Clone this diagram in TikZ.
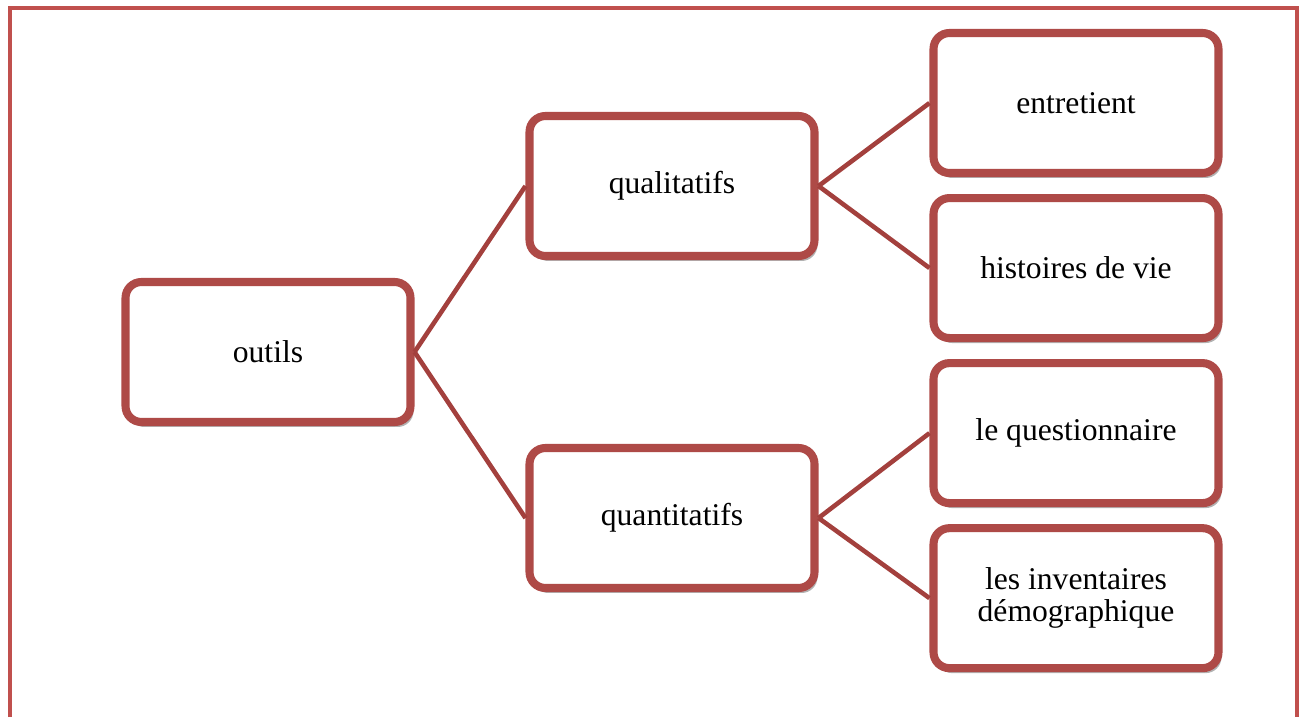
\documentclass[tikz,border=0pt]{standalone}
\usepackage{fontspec}
\setmainfont{Liberation Serif}
\usetikzlibrary{positioning, shadows}
\definecolor{framered}{HTML}{C0504D}
\definecolor{boxred}{HTML}{AE4A47}
\definecolor{linkred}{HTML}{A3403D}

\tikzset{
  box/.style={draw=boxred, line width=4.6pt, rounded corners=9pt, fill=white,
    minimum width=5.7cm, minimum height=2.8cm, align=center,
    font=\fontsize{18}{18.5}\selectfont,
    drop shadow={shadow xshift=.6mm, shadow yshift=-1mm, fill=black, opacity=.3}},
  link/.style={draw=linkred, line width=2.6pt}
}

\begin{document}
\begin{tikzpicture}[x=0.02cm, y=0.02cm, node distance=0.34cm]
    \useasboundingbox (0,0) rectangle (1305,-717);
    \draw[framered, line width=2.3pt] (10,-717) |- (1297,-8) -- (1297,-717);

    \node[box] (outils) at (268,-352) {outils};
    \node[box] (quali) at (672,-186) {qualitatifs};
    \node[box] (quanti) at (672,-518) {quantitatifs};
    \node[box] (entretient) at (1076,-103) {entretient};
    \node[box, below= of entretient] (histoires) {histoires de vie};
    \node[box, below= of histoires] (question) {le questionnaire};
    \node[box, below= of question] (invent) {les inventaires\\d\'emographique};

    \draw[link] (outils.east) -- (quali.west);
    \draw[link] (outils.east) -- (quanti.west);
    \draw[link] (quali.east) -- (entretient.west);
    \draw[link] (quali.east) -- (histoires.west);
    \draw[link] (quanti.east) -- (question.west);
    \draw[link] (quanti.east) -- (invent.west);
\end{tikzpicture}
\end{document}
